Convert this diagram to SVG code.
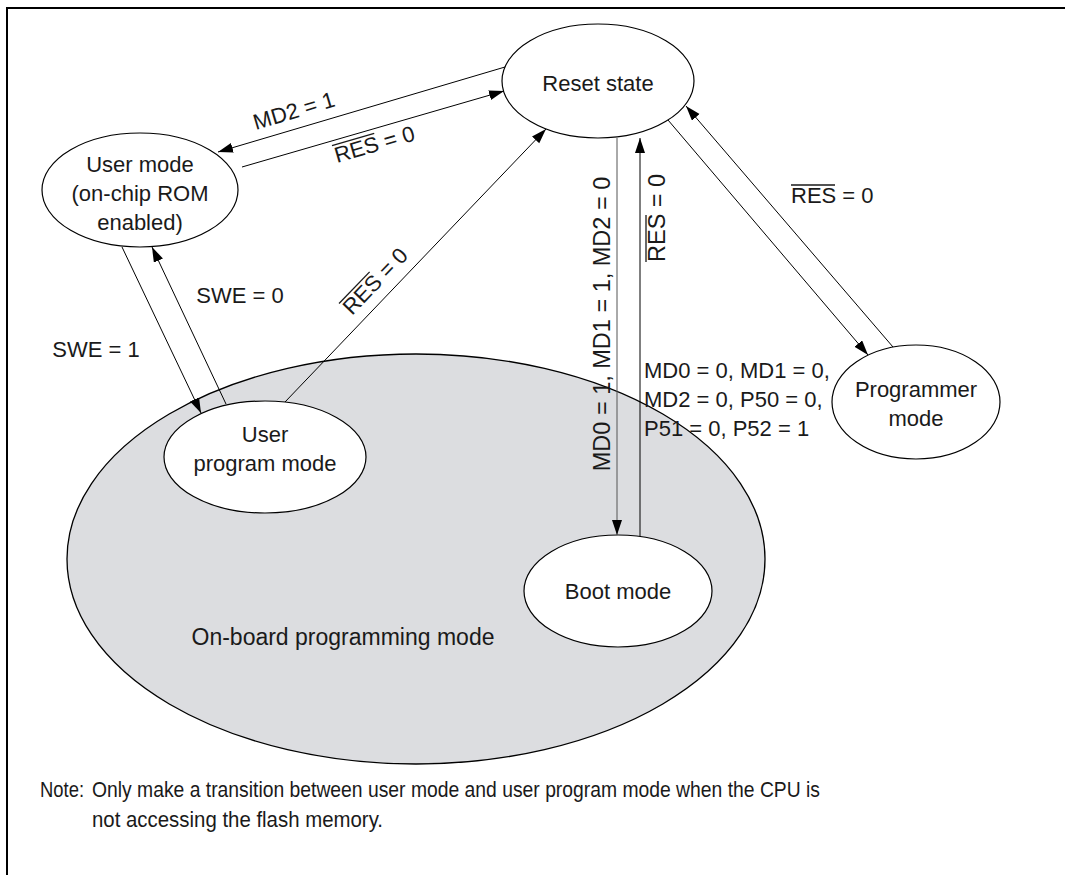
<svg xmlns="http://www.w3.org/2000/svg" width="1065" height="875" viewBox="0 0 1065 875">
<style>
.node{fill:#fff;stroke:#000;stroke-width:1.2}
.big{fill:#dcdde0;stroke:#000;stroke-width:1.3}
.t{font-family:"Liberation Sans",Arial,sans-serif;font-size:22px;fill:#1a1a1a}
.v{font-size:23.5px}
.n{font-size:22px}
.c{stroke:#000;stroke-width:1;fill:none}
.ov{stroke:#1a1a1a;stroke-width:1.3}
</style>
<defs>
<marker id="ah" markerUnits="userSpaceOnUse" markerWidth="16" markerHeight="12" refX="15" refY="5" orient="auto">
<path d="M0,0 L15,5 L0,10 z" fill="#000"/>
</marker>
</defs>
<rect x="7" y="8" width="1080" height="890" fill="#fff" stroke="#000" stroke-width="2"/>
<g id="onboard">
<ellipse class="big" cx="416" cy="559" rx="349" ry="205"/>
<text class="t" x="343" y="645" text-anchor="middle" style="font-size:23px">On-board programming mode</text>
</g>
<g id="reset">
<ellipse class="node" cx="598" cy="81" rx="96" ry="57"/>
<text class="t" x="598" y="91" text-anchor="middle">Reset state</text>
</g>
<g id="usermode">
<ellipse class="node" cx="140" cy="190" rx="98" ry="57"/>
<text class="t" x="140" y="172" text-anchor="middle">User mode</text>
<text class="t" x="140" y="201" text-anchor="middle">(on-chip ROM</text>
<text class="t" x="140" y="230" text-anchor="middle">enabled)</text>
</g>
<g id="userprog">
<ellipse class="node" cx="265" cy="457" rx="101" ry="56"/>
<text class="t" x="265" y="442" text-anchor="middle">User</text>
<text class="t" x="265" y="471" text-anchor="middle">program mode</text>
</g>
<g id="boot">
<ellipse class="node" cx="618" cy="591" rx="94" ry="56"/>
<text class="t" x="618" y="599" text-anchor="middle">Boot mode</text>
</g>
<g id="programmer">
<ellipse class="node" cx="916" cy="402" rx="84" ry="57"/>
<text class="t" x="916" y="397" text-anchor="middle">Programmer</text>
<text class="t" x="916" y="426" text-anchor="middle">mode</text>
</g>
<g id="connectors">
<path class="c" d="M505,67 L218,152" marker-end="url(#ah)"/>
<path class="c" d="M242,167 L504,91" marker-end="url(#ah)"/>
<path class="c" d="M122,247 L201,413" marker-end="url(#ah)"/>
<path class="c" d="M226,404 L152,247" marker-end="url(#ah)"/>
<path class="c" d="M285,402 L546,129" marker-end="url(#ah)"/>
<path class="c" d="M617,138 L617,535" marker-end="url(#ah)" style="stroke:#555"/>
<path class="c" d="M640,536 L640,138" marker-end="url(#ah)"/>
<path class="c" d="M668,120 L868,355" marker-end="url(#ah)"/>
<path class="c" d="M893,347 L686,106" marker-end="url(#ah)"/>
</g>
<g id="labels">
<text class="t" transform="translate(296,118) rotate(-16.5)" text-anchor="middle">MD2 = 1</text>
<g transform="translate(337,163) rotate(-16.2)">
<text class="t" x="0" y="0">RES = 0</text>
<line class="ov" x1="0" y1="-18" x2="44" y2="-18"/>
</g>
<g transform="translate(352,316) rotate(-46)">
<text class="t" x="0" y="0">RES = 0</text>
<line class="ov" x1="0" y1="-18" x2="44" y2="-18"/>
</g>
<text class="t" x="96" y="357" text-anchor="middle">SWE = 1</text>
<text class="t" x="240" y="303" text-anchor="middle">SWE = 0</text>
<text class="t v" transform="translate(610,324) rotate(-90)" text-anchor="middle">MD0 = 1, MD1 = 1, MD2 = 0</text>
<g transform="translate(665,262) rotate(-90)">
<text class="t v" x="0" y="0">RES = 0</text>
<line class="ov" x1="0" y1="-19" x2="47" y2="-19"/>
</g>
<text class="t" x="644" y="378">MD0 = 0, MD1 = 0,</text>
<text class="t" x="644" y="407">MD2 = 0, P50 = 0,</text>
<text class="t" x="644" y="436">P51 = 0, P52 = 1</text>
<g transform="translate(791,203)">
<text class="t" x="0" y="0">RES = 0</text>
<line class="ov" x1="0" y1="-18" x2="44" y2="-18"/>
</g>
</g>
<g id="note">
<text class="t n" x="40" y="797" textLength="44" lengthAdjust="spacingAndGlyphs">Note:</text>
<text class="t n" x="92" y="797" textLength="728" lengthAdjust="spacingAndGlyphs">Only make a transition between user mode and user program mode when the CPU is</text>
<text class="t n" x="92" y="827" textLength="291" lengthAdjust="spacingAndGlyphs">not accessing the flash memory.</text>
</g>
</svg>
